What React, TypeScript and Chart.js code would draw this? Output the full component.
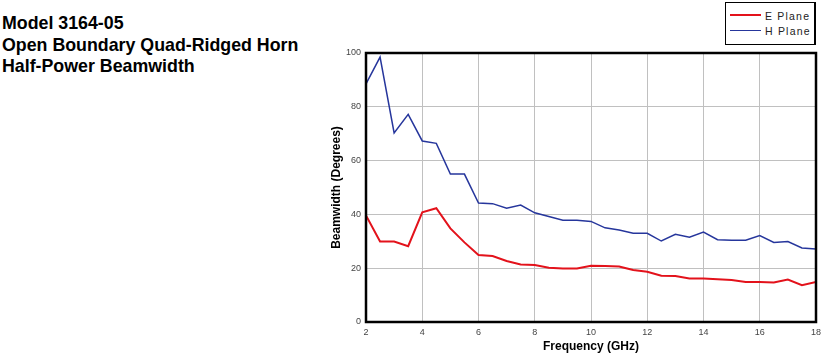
import React, { useEffect, useRef } from "react";
import { Chart, registerables } from "chart.js";

Chart.register(...registerables);

const titleLines = ["Model 3164-05", "Open Boundary Quad-Ridged Horn", "Half-Power Beamwidth"];

const frequencies = [2, 2.5, 3, 3.5, 4, 4.5, 5, 5.5, 6, 6.5, 7, 7.5, 8, 8.5, 9, 9.5, 10, 10.5, 11, 11.5, 12, 12.5, 13, 13.5, 14, 14.5, 15, 15.5, 16, 16.5, 17, 17.5, 18];

const ePlane = [39.6, 29.9, 29.9, 28.2, 40.8, 42.3, 34.8, 29.6, 24.9, 24.5, 22.7, 21.4, 21.2, 20.2, 19.9, 19.9, 20.9, 20.8, 20.6, 19.3, 18.7, 17.2, 17.1, 16.2, 16.2, 15.9, 15.6, 14.9, 14.9, 14.7, 15.8, 13.7, 14.9];

const hPlane = [88.5, 98.5, 70.3, 77.2, 67.3, 66.4, 55.0, 55.0, 44.2, 44.0, 42.3, 43.5, 40.6, 39.2, 37.8, 37.8, 37.4, 35.0, 34.2, 33.0, 33.0, 30.1, 32.6, 31.5, 33.4, 30.6, 30.4, 30.4, 32.1, 29.6, 29.9, 27.5, 27.1];

const seriesNames = ["E Plane", "H Plane"];
const seriesColors = ["#e3121b", "#26369c"];

const xTitle = "Frequency (GHz)";
const yTitle = "Beamwidth (Degrees)";

const FONT = '"Liberation Sans", Arial, sans-serif';

const plotBorder = {
  id: "plotBorder",
  afterDraw(chart: any) {
    const { ctx, chartArea: a } = chart;
    ctx.save();
    ctx.strokeStyle = "#000";
    ctx.lineWidth = 2.5;
    ctx.strokeRect(a.left, a.top, a.right - a.left, a.bottom - a.top);
    ctx.restore();
  },
};

export default function App() {
  const ref = useRef<HTMLCanvasElement>(null);

  useEffect(() => {
    if (!ref.current) return;
    const chart = new Chart(ref.current, {
      type: "line",
      data: {
        datasets: [
          {
            label: seriesNames[0],
            data: frequencies.map((f, i) => ({ x: f, y: ePlane[i] })),
            borderColor: seriesColors[0],
            backgroundColor: seriesColors[0],
            borderWidth: 2,
            pointRadius: 0,
            tension: 0,
          },
          {
            label: seriesNames[1],
            data: frequencies.map((f, i) => ({ x: f, y: hPlane[i] })),
            borderColor: seriesColors[1],
            backgroundColor: seriesColors[1],
            borderWidth: 1.5,
            pointRadius: 0,
            tension: 0,
          },
        ],
      },
      options: {
        animation: false,
        responsive: false,
        devicePixelRatio: 1,
        layout: { padding: { left: 320, top: 53, right: 16, bottom: 0 } },
        plugins: { legend: { display: false }, tooltip: { enabled: false } },
        scales: {
          x: {
            type: "linear",
            min: 2,
            max: 18,
            afterFit: (s: any) => {
              s.height = 36;
            },
            ticks: { stepSize: 2, color: "#444", font: { family: FONT, size: 9 }, padding: 5, maxRotation: 0 },
            grid: { color: "#c0c0c0", lineWidth: 1, drawTicks: false },
            border: { display: false },
            title: {
              display: true,
              text: xTitle,
              color: "#000",
              font: { family: FONT, size: 12, weight: "bold" },
              padding: { top: 0, bottom: 4 },
            },
          },
          y: {
            min: 0,
            max: 100,
            afterFit: (s: any) => {
              s.width = 46;
            },
            ticks: { stepSize: 20, color: "#444", font: { family: FONT, size: 9 }, padding: 5 },
            grid: { color: "#c0c0c0", lineWidth: 1, drawTicks: false },
            border: { display: false },
            title: {
              display: true,
              text: yTitle,
              color: "#000",
              font: { family: FONT, size: 12, weight: "bold" },
              padding: { top: 9, bottom: 0 },
            },
          },
        },
      },
      plugins: [plotBorder],
    });
    return () => chart.destroy();
  }, []);

  return (
    <div style={{ position: "fixed", left: 0, top: 0, width: 832, height: 358, background: "#fff" }}>
      <div
        style={{
          position: "absolute",
          left: 2,
          top: 13.3,
          fontFamily: FONT,
          fontWeight: "bold",
          fontSize: 17.8,
          lineHeight: "21.5px",
          color: "#000",
          whiteSpace: "nowrap",
        }}
      >
        {titleLines.map((t) => (
          <div key={t}>{t}</div>
        ))}
      </div>
      <canvas ref={ref} width={832} height={358} style={{ position: "absolute", left: 0, top: 0 }} />
      <div
        style={{
          position: "absolute",
          left: 725,
          top: 2,
          width: 91,
          height: 43,
          boxSizing: "border-box",
          border: "1px solid #000",
          borderRightWidth: 2,
          background: "#fff",
          fontFamily: FONT,
          fontSize: 10.5,
          color: "#222",
        }}
      >
        {seriesNames.map((name, i) => (
          <div key={name}>
            <div
              style={{
                position: "absolute",
                left: 4,
                top: i === 0 ? 11 : 27,
                width: 31,
                height: i === 0 ? 2 : 1,
                background: seriesColors[i],
              }}
            />
            <div
              style={{
                position: "absolute",
                left: 39,
                top: i === 0 ? 6.5 : 21.7,
                lineHeight: "12px",
                letterSpacing: "1.2px",
                whiteSpace: "nowrap",
              }}
            >
              {name}
            </div>
          </div>
        ))}
      </div>
    </div>
  );
}
